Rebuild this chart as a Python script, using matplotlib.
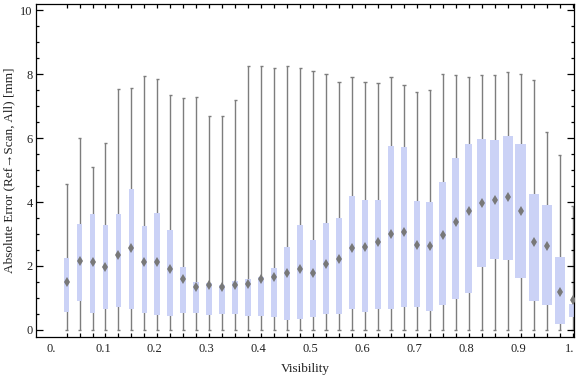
import numpy as np
import matplotlib.pyplot as plt
from matplotlib.ticker import MultipleLocator, FixedLocator

# one box per visibility bin
visibility = np.arange(1, 41) * 0.025 + 0.005

whisker_lo = [0.0] * 40
whisker_hi = [4.56, 6.0, 5.08, 5.83, 7.52, 7.55, 7.93, 7.86, 7.33, 7.24,
              7.27, 6.68, 6.68, 7.19, 8.24, 8.24, 8.18, 8.24, 8.18, 8.11,
              7.99, 7.74, 7.9, 7.74, 7.71, 7.9, 7.65, 7.43, 7.49, 7.99,
              7.96, 7.9, 7.96, 7.96, 8.06, 7.99, 7.8, 6.18, 5.46, 3.86]
q3 = [2.25, 3.31, 3.63, 3.27, 3.63, 4.40, 3.25, 3.66, 3.13, 1.97,
      1.5, 1.47, 1.41, 1.53, 1.59, 1.66, 1.95, 2.59, 3.28, 2.81,
      3.34, 3.5, 4.19, 4.06, 4.06, 5.75, 5.72, 4.03, 4.0, 4.63,
      5.38, 5.81, 5.97, 5.94, 6.06, 5.81, 4.25, 3.91, 2.28, 0.81]
mean = [1.49, 2.16, 2.11, 1.96, 2.34, 2.55, 2.14, 2.14, 1.91, 1.59,
        1.35, 1.39, 1.35, 1.39, 1.44, 1.58, 1.66, 1.77, 1.91, 1.79,
        2.07, 2.21, 2.55, 2.59, 2.74, 2.99, 3.05, 2.65, 2.61, 2.97,
        3.39, 3.71, 3.96, 4.05, 4.15, 3.72, 2.74, 2.61, 1.18, 0.93]
q1 = [0.57, 0.92, 0.52, 0.64, 0.71, 0.64, 0.54, 0.48, 0.45, 0.54,
      0.54, 0.48, 0.51, 0.51, 0.45, 0.45, 0.39, 0.32, 0.35, 0.42,
      0.51, 0.51, 0.67, 0.57, 0.67, 0.64, 0.73, 0.73, 0.6, 0.79,
      0.98, 1.14, 1.98, 2.23, 2.2, 1.64, 0.89, 0.79, 0.2, 0.42]

xtick_vals = [0.0, 0.1, 0.2, 0.3, 0.4, 0.5, 0.6, 0.7, 0.8, 0.9, 1.0]
xtick_labels = ["0.", "0.1", "0.2", "0.3", "0.4", "0.5", "0.6", "0.7", "0.8", "0.9", "1."]

# box widths in pixels (they grow towards high visibility)
box_px = [4.5, 5, 5, 5, 5, 5.5, 5, 6, 6, 6, 6, 6, 6, 6, 6, 6, 6, 6, 6, 6,
          6, 6, 6, 6, 6, 6, 6, 6, 7, 7, 7, 7, 9, 9, 10, 10.5, 10, 10, 10, 7]

px = 1 / 519.0
box_w = np.array(box_px) * px
cap = 1.6 * px

plt.rcParams['font.family'] = ['Liberation Serif', 'DejaVu Serif']

fig = plt.figure(figsize=(5.76, 3.77), dpi=100)
ax = fig.add_axes([36 / 576, 40 / 377, 538 / 576, 333 / 377])

grey = '#7d7d7d'
ax.vlines(visibility, whisker_lo, whisker_hi, color=grey, lw=1.0, zorder=1)
ax.hlines(whisker_hi, visibility - cap, visibility + cap, color=grey, lw=1.0, zorder=1)
ax.hlines(whisker_lo, visibility - cap, visibility + cap, color=grey, lw=1.0, zorder=1)
ax.bar(visibility, np.array(q3) - np.array(q1), width=box_w, bottom=q1,
       color='#cbd2f6', edgecolor='none', zorder=2)
ax.plot(visibility, mean, ls='none', marker='d', ms=5, color='#787878',
        markeredgewidth=0, zorder=3)

ax.set_xlim(-0.0289, 1.0077)
ax.set_ylim(-0.22, 10.19)

ax.xaxis.set_major_locator(FixedLocator(xtick_vals))
ax.set_xticklabels(xtick_labels)
ax.xaxis.set_minor_locator(FixedLocator(list(visibility)))
ax.yaxis.set_major_locator(MultipleLocator(2))
ax.yaxis.set_minor_locator(MultipleLocator(0.5))

ax.tick_params(axis='x', which='major', length=0, pad=4, labelsize=9, labelcolor='#222222')
ax.tick_params(axis='x', which='minor', direction='in', length=3, width=0.9,
               top=True, bottom=True)
ax.tick_params(axis='y', which='major', direction='in', length=5, width=0.9,
               left=True, right=True, pad=2.5, labelsize=9, labelcolor='#222222')
ax.tick_params(axis='y', which='minor', direction='in', length=2.5, width=0.9,
               left=True, right=True)
for s in ax.spines.values():
    s.set_linewidth(0.9)

fig.text(305 / 576, 1 - 369 / 377, "Visibility", ha='center', va='center',
         fontsize=9.5, color='#222222')
fig.text(9 / 576, 1 - 170 / 377, "Absolute Error (Ref\u2192Scan, All) [mm]",
         rotation=90, ha='center', va='center', fontsize=9.5, color='#222222')

fig.savefig('out.png', dpi=100)
